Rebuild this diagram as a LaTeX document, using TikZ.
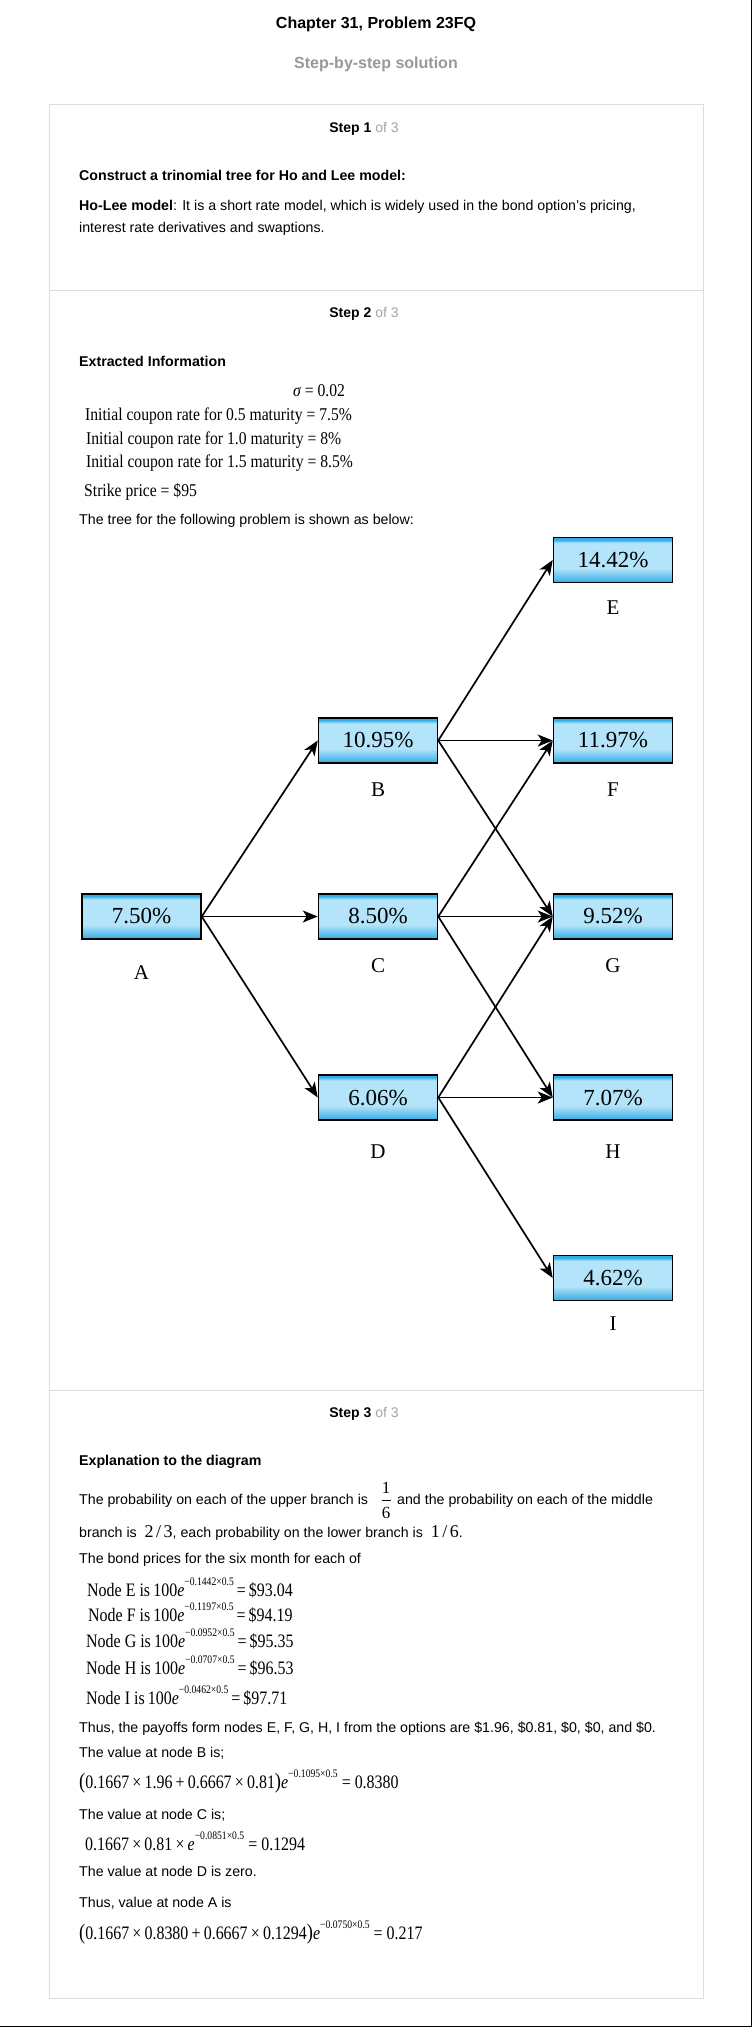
\documentclass[tikz,border=0pt]{standalone}
\usepackage{fontspec}
\setmainfont{Liberation Sans}
\newfontfamily\timesfont{Liberation Serif}
\newfontfamily\mtfont[FakeStretch=0.84]{Liberation Serif}
\newfontfamily\mtwide[FakeStretch=0.87]{Liberation Serif}
\usetikzlibrary{arrows.meta}
\definecolor{rateblue}{RGB}{52,172,228}
\definecolor{ratelight}{RGB}{180,228,249}
\definecolor{panelgray}{RGB}{221,221,221}
\definecolor{stepgray}{RGB}{165,165,165}
\definecolor{subgray}{RGB}{153,153,153}
\pgfdeclareverticalshading{ratefill}{100bp}{color(0bp)=(rateblue); color(25bp)=(rateblue); color(41bp)=(ratelight); color(69bp)=(ratelight); color(72.5bp)=(rateblue); color(100bp)=(rateblue)}
\newcommand{\expo}[1]{\raisebox{10.5pt}{\fontsize{11.5}{11.5}\selectfont #1}}
\newcommand{\stepof}[1]{\textbf{Step #1} {\color{stepgray}of 3}}
\newcommand{\bigpar}[1]{{\fontsize{22}{22}\selectfont #1}}
\newcommand{\ratio}[2]{{\timesfont\fontsize{18}{18}\selectfont #1\hspace{2.5pt}/\hspace{2.5pt}#2}}
\newcommand{\eqto}{\hspace{3pt}=\hspace{3pt}}
\tikzset{
	body/.style={anchor=base west, inner sep=0pt, font=\fontsize{14.2}{17}\selectfont},
	bodybold/.style={body, font=\bfseries\fontsize{14.2}{17}\selectfont},
	mt/.style={anchor=base west, inner sep=0pt, font=\mtfont\fontsize{19}{22}\selectfont},
	mtsmall/.style={mt, font=\mtwide\fontsize{18}{22}\selectfont},
	steplbl/.style={anchor=base, inner sep=0pt, font=\fontsize{14}{17}\selectfont},
	ratebox/.style={draw, line width=1.5pt, minimum width=119pt, minimum height=45pt, inner sep=0pt, shading=ratefill, font=\timesfont\fontsize{23}{23}\selectfont},
	nodelbl/.style={inner sep=0pt, font=\timesfont\fontsize{21}{21}\selectfont},
	fracdigit/.style={inner sep=0pt, font=\timesfont\fontsize{17}{17}\selectfont},
	branch/.style={line width=1.7pt, -{Stealth[length=15pt,width=12pt,inset=4pt]}}
}

\begin{document}
\begin{tikzpicture}[x=1pt,y=-1pt]
		%%%%% START %%%%%
		
		\useasboundingbox (0,0) rectangle (752,2027);
		\fill[white] (0,0) rectangle (752,2027);
		\draw[line width=1.2pt] (751.4,0) -- (751.4,2026.4) -- (0,2026.4);
		
		\node[anchor=base, inner sep=0pt, font=\bfseries\fontsize{16}{19}\selectfont] (title) at (376,28) {Chapter 31, Problem 23FQ};
		\node[anchor=base, inner sep=0pt, text=subgray, font=\bfseries\fontsize{16}{19}\selectfont] (subtitle) at (376,68) {Step-by-step solution};
		
		\draw[panelgray, line width=1pt] (49,104) rectangle (703,1998);
		\draw[panelgray, line width=1pt] (49,290) -- (703,290);
		\draw[panelgray, line width=1pt] (49,1390) -- (703,1390);
		
		% step 1
		\node[steplbl] (step1) at (364,132) {\stepof{1}};
		\node[bodybold] (construct) at (79,180) {Construct a trinomial tree for Ho and Lee model:};
		\node[body] (holee1) at (79,210) {\textbf{Ho-Lee model}: It is a short rate model, which is widely used in the bond option’s pricing,};
		\node[body] (holee2) at (79,232) {interest rate derivatives and swaptions.};
		
		% step 2
		\node[steplbl] (step2) at (364,317) {\stepof{2}};
		\node[bodybold] (extracted) at (79,366) {Extracted Information};
		\node[mtsmall] (sigma) at (293,396) {{\itshape σ} = 0.02};
		\node[mtsmall] (coupon1) at (85,420) {Initial coupon rate for 0.5 maturity = 7.5\%};
		\node[mtsmall] (coupon2) at (86,444) {Initial coupon rate for 1.0 maturity = 8\%};
		\node[mtsmall] (coupon3) at (86,467) {Initial coupon rate for 1.5 maturity = 8.5\%};
		\node[mtsmall] (strike) at (84,496) {Strike price = \$95};
		\node[body] (treeintro) at (79,524) {The tree for the following problem is shown as below:};
		
		% trinomial tree
		\node[ratebox] (A) at (141.5,916.5) {7.50\%};
		\node[ratebox] (B) at (378,740.5) {10.95\%};
		\node[ratebox] (C) at (378,916.5) {8.50\%};
		\node[ratebox] (D) at (378,1097.5) {6.06\%};
		\node[ratebox] (E) at (613,560) {14.42\%};
		\node[ratebox] (F) at (613,740.5) {11.97\%};
		\node[ratebox] (G) at (613,916.5) {9.52\%};
		\node[ratebox] (H) at (613,1097.5) {7.07\%};
		\node[ratebox] (I) at (613,1278) {4.62\%};
		
		\node[nodelbl] (Albl) at (141.5,973) {A};
		\node[nodelbl] (Blbl) at (378,790) {B};
		\node[nodelbl] (Clbl) at (378,966) {C};
		\node[nodelbl] (Dlbl) at (378,1152) {D};
		\node[nodelbl] (Elbl) at (613,608) {E};
		\node[nodelbl] (Flbl) at (613,790) {F};
		\node[nodelbl] (Glbl) at (613,966) {G};
		\node[nodelbl] (Hlbl) at (613,1152) {H};
		\node[nodelbl] (Ilbl) at (613,1324) {I};
		
		\draw[branch] (A.east) -- (B.west);
		\draw[branch] (A.east) -- (C.west);
		\draw[branch] (A.east) -- (D.west);
		\draw[branch] (B.east) -- (E.west);
		\draw[branch] (B.east) -- (F.west);
		\draw[branch] (B.east) -- (G.west);
		\draw[branch] (C.east) -- (F.west);
		\draw[branch] (C.east) -- (G.west);
		\draw[branch] (C.east) -- (H.west);
		\draw[branch] (D.east) -- (G.west);
		\draw[branch] (D.east) -- (H.west);
		\draw[branch] (D.east) -- (I.west);
		
		% step 3
		\node[steplbl] (step3) at (364,1417) {\stepof{3}};
		\node[bodybold] (explain) at (79,1465) {Explanation to the diagram};
		\node[body] (prob1) at (79,1504) {The probability on each of the upper branch is};
		\node[fracdigit] (upnum) at (386,1488) {1};
		\node[fracdigit] (upden) at (386,1513) {6};
		\draw[line width=0.8pt] (381.5,1500.5) -- (390.5,1500.5);
		\node[body] (prob2) at (397,1504) {and the probability on each of the middle};
		\node[body] (prob3) at (79,1537) {branch is \ \ratio{2}{3}, each probability on the lower branch is \ \ratio{1}{6}.};
		\node[body] (bondintro) at (79,1563) {The bond prices for the six month for each of};
		
		\node[mt] (priceE) at (87,1596) {Node E is\,100{\itshape e}\expo{−0.1442×0.5}\eqto\$93.04};
		\node[mt] (priceF) at (88,1621) {Node F is\,100{\itshape e}\expo{−0.1197×0.5}\eqto\$94.19};
		\node[mt] (priceG) at (86,1647) {Node G is\,100{\itshape e}\expo{−0.0952×0.5}\eqto\$95.35};
		\node[mt] (priceH) at (86,1674) {Node H is\,100{\itshape e}\expo{−0.0707×0.5}\eqto\$96.53};
		\node[mt] (priceI) at (86,1704) {Node I is\,100{\itshape e}\expo{−0.0462×0.5}\eqto\$97.71};
		
		\node[body] (payoffs) at (79,1732) {Thus, the payoffs form nodes E, F, G, H, I from the options are \$1.96, \$0.81, \$0, \$0, and \$0.};
		\node[body] (valBtxt) at (79,1757) {The value at node B is;};
		\node[mt] (valB) at (79,1788) {\bigpar{(}0.1667\,×\,1.96\,+\,0.6667\,×\,0.81\bigpar{)}{\itshape e}\expo{−0.1095×0.5} = 0.8380};
		\node[body] (valCtxt) at (79,1819) {The value at node C is;};
		\node[mt] (valC) at (85,1850) {0.1667\,×\,0.81\,×\,{\itshape e}\expo{−0.0851×0.5} = 0.1294};
		\node[body] (valDtxt) at (79,1876) {The value at node D is zero.};
		\node[body] (valAtxt) at (79,1907) {Thus, value at node A is};
		\node[mt] (valA) at (79,1939) {\bigpar{(}0.1667\,×\,0.8380\,+\,0.6667\,×\,0.1294\bigpar{)}{\itshape e}\expo{−0.0750×0.5} = 0.217};
		
		%%%%% END %%%%%
	\end{tikzpicture}
\end{document}
